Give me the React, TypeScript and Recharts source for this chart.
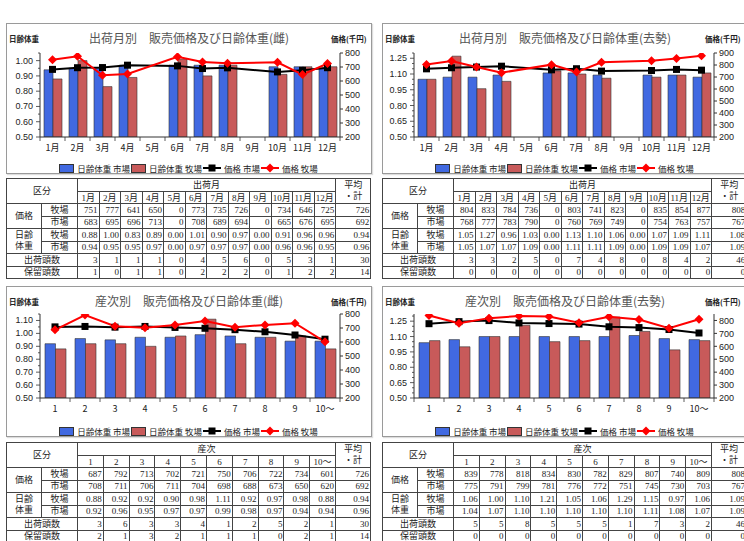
import React from 'react';
import { ComposedChart, Bar, Line, XAxis, YAxis } from 'recharts';

const monthLabels = ['1月', '2月', '3月', '4月', '5月', '6月', '7月', '8月', '9月', '10月', '11月', '12月'];
const parityLabels = ['1', '2', '3', '4', '5', '6', '7', '8', '9', '10〜'];

// 出荷月別（雌）
const femMonthFarmPrice = [751, 777, 641, 650, 0, 773, 735, 726, 0, 734, 646, 725];
const femMonthMarketPrice = [683, 695, 696, 713, 0, 708, 689, 694, 0, 665, 676, 695];
const femMonthFarmWeight = [0.88, 1.0, 0.83, 0.89, 0, 1.01, 0.9, 0.97, 0, 0.91, 0.96, 0.96];
const femMonthMarketWeight = [0.94, 0.95, 0.95, 0.97, 0, 0.97, 0.97, 0.97, 0, 0.96, 0.96, 0.95];
const femMonthShipped = [3, 1, 1, 1, 0, 4, 5, 6, 0, 5, 3, 1];
const femMonthKept = [1, 0, 1, 1, 0, 2, 2, 2, 0, 1, 2, 2];
const femMonthTotals = [726, 692, 0.94, 0.96, 30, 14];

// 出荷月別（去勢）
const casMonthFarmPrice = [804, 833, 784, 736, 0, 803, 741, 823, 0, 835, 854, 877];
const casMonthMarketPrice = [768, 777, 783, 790, 0, 760, 769, 749, 0, 754, 763, 757];
const casMonthFarmWeight = [1.05, 1.27, 0.96, 1.03, 0, 1.13, 1.1, 1.06, 0, 1.07, 1.09, 1.11];
const casMonthMarketWeight = [1.05, 1.07, 1.07, 1.09, 0, 1.11, 1.11, 1.09, 0, 1.09, 1.09, 1.07];
const casMonthShipped = [3, 3, 2, 5, 0, 7, 4, 8, 0, 8, 4, 2];
const casMonthKept = [0, 0, 0, 0, 0, 0, 0, 0, 0, 0, 0, 0];
const casMonthTotals = [808, 767, 1.08, 1.09, 46, 0];

// 産次別（雌）
const femParityFarmPrice = [687, 792, 713, 702, 721, 750, 706, 722, 734, 601];
const femParityMarketPrice = [708, 711, 706, 711, 704, 698, 688, 673, 650, 620];
const femParityFarmWeight = [0.88, 0.92, 0.92, 0.9, 0.98, 1.11, 0.92, 0.97, 0.98, 0.88];
const femParityMarketWeight = [0.92, 0.96, 0.95, 0.97, 0.97, 0.99, 0.98, 0.97, 0.94, 0.94];
const femParityShipped = [3, 6, 3, 3, 4, 1, 2, 5, 2, 1];
const femParityKept = [2, 1, 3, 2, 1, 1, 1, 0, 2, 1];
const femParityTotals = [726, 692, 0.94, 0.96, 30, 14];

// 産次別（去勢）
const casParityFarmPrice = [839, 778, 818, 834, 830, 782, 829, 807, 740, 809];
const casParityMarketPrice = [775, 791, 799, 781, 776, 772, 751, 745, 730, 703];
const casParityFarmWeight = [1.06, 1.0, 1.1, 1.21, 1.05, 1.06, 1.29, 1.15, 0.97, 1.06];
const casParityMarketWeight = [1.04, 1.07, 1.1, 1.1, 1.1, 1.1, 1.1, 1.11, 1.08, 1.07];
const casParityShipped = [5, 5, 8, 5, 5, 5, 1, 7, 3, 2];
const casParityKept = [0, 0, 0, 0, 0, 0, 0, 0, 0, 0];
const casParityTotals = [808, 767, 1.09, 1.09, 46, 0];

// axis ticks
const wTicks10 = [0.5, 0.55, 0.6, 0.65, 0.7, 0.75, 0.8, 0.85, 0.9, 0.95, 1.0, 1.05];
const wMajors10 = [0.5, 0.6, 0.7, 0.8, 0.9, 1.0];
const wTicks11 = [0.5, 0.55, 0.6, 0.65, 0.7, 0.75, 0.8, 0.85, 0.9, 0.95, 1.0, 1.05, 1.1, 1.15];
const wMajors11 = [0.5, 0.6, 0.7, 0.8, 0.9, 1.0, 1.1];
const wTicks15 = [0.5, 0.55, 0.6, 0.65, 0.7, 0.75, 0.8, 0.85, 0.9, 0.95, 1.0, 1.05, 1.1, 1.15, 1.2, 1.25, 1.3];
const wMajors15 = [0.5, 0.65, 0.8, 0.95, 1.1, 1.25];
const pTicks800 = [200, 300, 400, 500, 600, 700, 800];
const pTicks900 = [200, 300, 400, 500, 600, 700, 800, 900];

const BLUE = '#4169e1';
const RED = '#c85a5a';
const CHART_W = 366;
const PLOT_W = 300;
const PLOT_H = 84;
const TICK_FONT = "'Liberation Sans', Arial, sans-serif";
const JP_FONT = "'Noto Sans CJK JP', sans-serif";
const TABLE_FONT = "'Liberation Serif', 'Noto Sans CJK JP', serif";

const toRows = (cats: string[], mw: number[], fw: number[], mp: number[], fp: number[]) =>
  cats.map((name, i) => ({
    name,
    mw: mw[i] || null,
    fw: fw[i] || null,
    mp: mp[i] || null,
    fp: fp[i] || null,
  }));

const squareDot = (p: any) => {
  if (p.cy == null || isNaN(p.cy) || p.value == null) return <g key={p.index} />;
  return <rect key={p.index} x={p.cx - 3.5} y={p.cy - 3.5} width={7} height={7} fill="#000" />;
};

const diamondDot = (p: any) => {
  if (p.cy == null || isNaN(p.cy) || p.value == null) return <g key={p.index} />;
  const { cx, cy } = p;
  return <path key={p.index} d={`M${cx},${cy - 4.5}L${cx + 4.5},${cy}L${cx},${cy + 4.5}L${cx - 4.5},${cy}Z`} fill="#ff0000" />;
};

function Legend() {
  const txt: React.CSSProperties = { marginLeft: 3, marginRight: 1 };
  return (
    <div
      style={{
        position: 'absolute', top: 138, left: 0, width: '100%', display: 'flex',
        justifyContent: 'center', alignItems: 'center', fontSize: 8.5, fontFamily: JP_FONT,
        color: '#222', lineHeight: '12px',
      }}
    >
      <span style={{ width: 15, height: 9, background: BLUE, border: '1px solid #333', boxSizing: 'border-box' }} />
      <span style={txt}>日齢体重 市場</span>
      <span style={{ width: 15, height: 9, background: RED, border: '1px solid #333', boxSizing: 'border-box' }} />
      <span style={txt}>日齢体重 牧場</span>
      <svg width={18} height={10}>
        <line x1={0} y1={5} x2={18} y2={5} stroke="#000" strokeWidth={2} />
        <rect x={5.5} y={1.5} width={7} height={7} fill="#000" />
      </svg>
      <span style={txt}>価格 市場</span>
      <svg width={18} height={10}>
        <line x1={0} y1={5} x2={18} y2={5} stroke="#f00" strokeWidth={2} />
        <path d="M9,0.5L13.5,5L9,9.5L4.5,5Z" fill="#f00" />
      </svg>
      <span style={txt}>価格 牧場</span>
    </div>
  );
}

interface PanelProps {
  title: string;
  rows: any[];
  left: number;
  top: number;
  plotLeft: number;
  plotTop: number;
  wDomain: [number, number];
  wTicks: number[];
  wMajors: number[];
  pDomain: [number, number];
  pTicks: number[];
  barSize: number;
  priceLabelLeft: number;
}

function Panel(props: PanelProps) {
  const { title, rows, left, top, plotLeft, plotTop, wDomain, wTicks, wMajors, pDomain, pTicks, barSize, priceLabelLeft } = props;
  const n = rows.length;
  const step = PLOT_W / n;
  const axisY = plotTop + PLOT_H;

  const leftTick = (p: any) => {
    const v = p.payload.value;
    const major = wMajors.some((m) => Math.abs(m - v) < 1e-6);
    const ax = p.x + 6;
    return (
      <g key={p.index}>
        <line x1={ax - (major ? 4 : 2)} y1={p.y} x2={ax} y2={p.y} stroke="#333" strokeWidth={0.8} />
        {major && (
          <text x={p.x - 1} y={p.y} dy={3} textAnchor="end" fontSize={9} fontFamily={TICK_FONT} fill="#222">
            {v.toFixed(2)}
          </text>
        )}
      </g>
    );
  };

  const xTick = (p: any) => {
    const edge = p.x - step / 2;
    return (
      <g key={p.index}>
        <line x1={edge} y1={axisY} x2={edge} y2={axisY + 4} stroke="#333" strokeWidth={0.8} />
        {p.index === n - 1 && (
          <line x1={edge + step} y1={axisY} x2={edge + step} y2={axisY + 4} stroke="#333" strokeWidth={0.8} />
        )}
        <text x={p.x} y={axisY + 14} textAnchor="middle" fontSize={9} fontFamily={JP_FONT} fill="#222">
          {p.payload.value}
        </text>
      </g>
    );
  };

  return (
    <div
      style={{
        position: 'absolute', left, top, width: CHART_W, height: 151, border: '1px solid #9a9a9a',
        boxSizing: 'border-box', background: '#fff', boxShadow: '1px 1px 1px #ddd',
      }}
    >
      <div
        style={{
          position: 'absolute', top: 6, left: 0, width: '100%', textAlign: 'center', fontSize: 12,
          fontFamily: JP_FONT, color: '#555', lineHeight: '16px',
        }}
      >
        {title}
      </div>
      <div style={{ position: 'absolute', top: 9, left: 2, fontSize: 7.5, fontWeight: 'bold', fontFamily: JP_FONT, color: '#222' }}>
        日齢体重
      </div>
      <div style={{ position: 'absolute', top: 9, left: priceLabelLeft, fontSize: 7.5, fontWeight: 'bold', fontFamily: JP_FONT, color: '#222', whiteSpace: 'nowrap' }}>
        価格(千円)
      </div>
      <div style={{ position: 'absolute', left: -1, top: -1 }}>
        <ComposedChart
          width={CHART_W}
          height={axisY + 20}
          data={rows}
          margin={{ top: plotTop, right: 0, bottom: 0, left: 0 }}
          barGap={0}
        >
          <XAxis
            dataKey="name"
            interval={0}
            height={20}
            tickSize={0}
            tickMargin={0}
            tickLine={false}
            axisLine={{ stroke: '#333' }}
            tick={xTick}
          />
          <YAxis
            yAxisId="w"
            orientation="left"
            width={plotLeft}
            domain={wDomain}
            ticks={wTicks}
            interval={0}
            allowDataOverflow
            tickSize={4}
            tickMargin={2}
            tickLine={false}
            axisLine={{ stroke: '#333' }}
            tick={leftTick}
          />
          <YAxis
            yAxisId="p"
            orientation="right"
            width={CHART_W - plotLeft - PLOT_W}
            domain={pDomain}
            ticks={pTicks}
            interval={0}
            allowDataOverflow
            tickSize={3}
            tickMargin={2}
            axisLine={{ stroke: '#333' }}
            tickLine={{ stroke: '#333' }}
            tick={{ fontSize: 9, fontFamily: TICK_FONT, fill: '#222' }}
          />
          <Bar yAxisId="w" dataKey="mw" fill={BLUE} stroke="#333" strokeWidth={0.6} barSize={barSize} isAnimationActive={false} />
          <Bar yAxisId="w" dataKey="fw" fill={RED} stroke="#333" strokeWidth={0.6} barSize={barSize} isAnimationActive={false} />
          <Line yAxisId="p" dataKey="mp" stroke="#000" strokeWidth={2} dot={squareDot} activeDot={false} connectNulls isAnimationActive={false} />
          <Line yAxisId="p" dataKey="fp" stroke="#ff0000" strokeWidth={2} dot={diamondDot} activeDot={false} connectNulls isAnimationActive={false} />
        </ComposedChart>
      </div>
      <Legend />
    </div>
  );
}

interface TableProps {
  left: number;
  top: number;
  head: string;
  cols: string[];
  farmPrice: number[];
  marketPrice: number[];
  farmWeight: number[];
  marketWeight: number[];
  shipped: number[];
  kept: number[];
  totals: number[];
}

function DataTable(props: TableProps) {
  const { left, top, head, cols, farmPrice, marketPrice, farmWeight, marketWeight, shipped, kept, totals } = props;
  const colW = 258 / cols.length;
  const cell: React.CSSProperties = {
    border: '1px solid #444', padding: '0 2px', fontSize: 9, lineHeight: '10px', whiteSpace: 'nowrap',
    overflow: 'hidden', color: '#222',
  };
  const num: React.CSSProperties = { ...cell, textAlign: 'right', padding: '0 1px 0 0' };
  const ctr: React.CSSProperties = { ...cell, textAlign: 'center' };
  const rowH = 12.5;
  const valueRow = (label: string, vals: number[], total: number, fmt: (v: number) => string, first?: React.ReactNode) => (
    <tr style={{ height: rowH }}>
      {first}
      <td style={ctr}>{label}</td>
      {vals.map((v, i) => (
        <td key={i} style={num}>{fmt(v)}</td>
      ))}
      <td style={num}>{fmt(total)}</td>
    </tr>
  );
  const intF = (v: number) => String(v);
  const decF = (v: number) => v.toFixed(2);
  return (
    <table
      style={{
        position: 'absolute', left, top, width: 364, borderCollapse: 'collapse', tableLayout: 'fixed',
        fontFamily: TABLE_FONT, border: '1.5px solid #333', background: '#fff',
      }}
    >
      <colgroup>
        <col style={{ width: 35 }} />
        <col style={{ width: 36 }} />
        {cols.map((c) => (
          <col key={c} style={{ width: colW }} />
        ))}
        <col style={{ width: 35 }} />
      </colgroup>
      <tbody>
        <tr style={{ height: 13 }}>
          <td style={ctr} colSpan={2} rowSpan={2}>区分</td>
          <td style={ctr} colSpan={cols.length}>{head}</td>
          <td style={{ ...ctr, lineHeight: '11px' }} rowSpan={2}>平均<br />・計</td>
        </tr>
        <tr style={{ height: 12 }}>
          {cols.map((c) => (
            <td key={c} style={{ ...ctr, padding: 0 }}>{c}</td>
          ))}
        </tr>
        {valueRow('牧場', farmPrice, totals[0], intF, <td style={ctr} rowSpan={2}>価格</td>)}
        {valueRow('市場', marketPrice, totals[1], intF)}
        {valueRow('牧場', farmWeight, totals[2], decF, <td style={{ ...ctr, lineHeight: '11px' }} rowSpan={2}>日齢<br />体重</td>)}
        {valueRow('市場', marketWeight, totals[3], decF)}
        <tr style={{ height: rowH }}>
          <td style={ctr} colSpan={2}>出荷頭数</td>
          {shipped.map((v, i) => (
            <td key={i} style={num}>{v}</td>
          ))}
          <td style={num}>{totals[4]}</td>
        </tr>
        <tr style={{ height: rowH }}>
          <td style={ctr} colSpan={2}>保留頭数</td>
          {kept.map((v, i) => (
            <td key={i} style={num}>{v}</td>
          ))}
          <td style={num}>{totals[5]}</td>
        </tr>
      </tbody>
    </table>
  );
}

export default function App() {
  return (
    <div style={{ position: 'absolute', left: 0, top: 0, width: 744, height: 541, overflow: 'hidden', background: '#fff' }}>
      <Panel
        title="出荷月別　販売価格及び日齢体重(雌)"
        rows={toRows(monthLabels, femMonthMarketWeight, femMonthFarmWeight, femMonthMarketPrice, femMonthFarmPrice)}
        left={6}
        top={23}
        plotLeft={34}
        plotTop={30}
        wDomain={[0.5, 1.05]}
        wTicks={wTicks10}
        wMajors={wMajors10}
        pDomain={[200, 800]}
        pTicks={pTicks800}
        barSize={9}
        priceLabelLeft={324}
      />
      <Panel
        title="出荷月別　販売価格及び日齢体重(去勢)"
        rows={toRows(monthLabels, casMonthMarketWeight, casMonthFarmWeight, casMonthMarketPrice, casMonthFarmPrice)}
        left={382}
        top={23}
        plotLeft={32}
        plotTop={30}
        wDomain={[0.5, 1.3]}
        wTicks={wTicks15}
        wMajors={wMajors15}
        pDomain={[200, 900]}
        pTicks={pTicks900}
        barSize={9}
        priceLabelLeft={322}
      />
      <DataTable
        left={6}
        top={178}
        head="出荷月"
        cols={monthLabels}
        farmPrice={femMonthFarmPrice}
        marketPrice={femMonthMarketPrice}
        farmWeight={femMonthFarmWeight}
        marketWeight={femMonthMarketWeight}
        shipped={femMonthShipped}
        kept={femMonthKept}
        totals={femMonthTotals}
      />
      <DataTable
        left={382}
        top={178}
        head="出荷月"
        cols={monthLabels}
        farmPrice={casMonthFarmPrice}
        marketPrice={casMonthMarketPrice}
        farmWeight={casMonthFarmWeight}
        marketWeight={casMonthMarketWeight}
        shipped={casMonthShipped}
        kept={casMonthKept}
        totals={casMonthTotals}
      />
      <Panel
        title="産次別　販売価格及び日齢体重(雌)"
        rows={toRows(parityLabels, femParityMarketWeight, femParityFarmWeight, femParityMarketPrice, femParityFarmPrice)}
        left={6}
        top={286}
        plotLeft={34}
        plotTop={28}
        wDomain={[0.5, 1.15]}
        wTicks={wTicks11}
        wMajors={wMajors11}
        pDomain={[200, 800]}
        pTicks={pTicks800}
        barSize={10.5}
        priceLabelLeft={324}
      />
      <Panel
        title="産次別　販売価格及び日齢体重(去勢)"
        rows={toRows(parityLabels, casParityMarketWeight, casParityFarmWeight, casParityMarketPrice, casParityFarmPrice)}
        left={382}
        top={286}
        plotLeft={32}
        plotTop={28}
        wDomain={[0.5, 1.32]}
        wTicks={wTicks15}
        wMajors={wMajors15}
        pDomain={[200, 850]}
        pTicks={pTicks800}
        barSize={10.5}
        priceLabelLeft={322}
      />
      <DataTable
        left={6}
        top={442}
        head="産次"
        cols={parityLabels}
        farmPrice={femParityFarmPrice}
        marketPrice={femParityMarketPrice}
        farmWeight={femParityFarmWeight}
        marketWeight={femParityMarketWeight}
        shipped={femParityShipped}
        kept={femParityKept}
        totals={femParityTotals}
      />
      <DataTable
        left={382}
        top={442}
        head="産次"
        cols={parityLabels}
        farmPrice={casParityFarmPrice}
        marketPrice={casParityMarketPrice}
        farmWeight={casParityFarmWeight}
        marketWeight={casParityMarketWeight}
        shipped={casParityShipped}
        kept={casParityKept}
        totals={casParityTotals}
      />
    </div>
  );
}
